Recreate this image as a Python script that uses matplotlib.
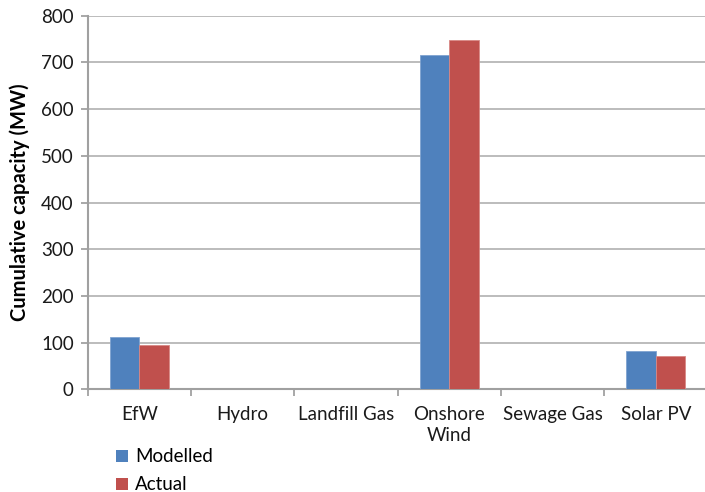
import matplotlib
matplotlib.use("Agg")
import matplotlib.pyplot as plt
import numpy as np
from matplotlib.patches import Patch

categories = ["EfW", "Hydro", "Landfill Gas", "Onshore\nWind", "Sewage Gas", "Solar PV"]
modelled = [111, 0, 0, 715, 0, 82]
actual = [95, 0, 0, 747, 0, 72]
series_names = ["Modelled", "Actual"]
yticks = [0, 100, 200, 300, 400, 500, 600, 700, 800]

plt.rcParams['font.family'] = ['Lato', 'DejaVu Sans']

fig = plt.figure(figsize=(7.05, 4.92), dpi=100)
ax = fig.add_axes([0.1244, 0.2087, 1.0035 - 0.1244, 0.968 - 0.2087])

blue = "#4F81BD"
red = "#C0504D"
x = np.arange(len(categories))
w = 1 / 3.5
ax.bar(x - w / 2, modelled, width=w, color=blue, edgecolor="#7fa3d0", linewidth=0.6, zorder=3)
ax.bar(x + w / 2, actual, width=w, color=red, edgecolor="#d88885", linewidth=0.6, zorder=3)

fs = 13.5
ax.set_xlim(-0.5, len(categories) - 0.5)
ax.set_ylim(0, 800)
ax.set_yticks(yticks)
ax.set_yticklabels([str(t) for t in yticks], fontsize=fs, color="#1a1a1a")
ax.yaxis.grid(True, color="#b0b0b0", linewidth=1.2, zorder=0)
ax.set_axisbelow(True)

ax.set_xticks(np.arange(len(categories) + 1) - 0.5)
ax.set_xticklabels([])
ax.set_xticks(x, minor=True)
ax.set_xticklabels(categories, minor=True, fontsize=fs, color="#1a1a1a", linespacing=1.3)
ax.tick_params(axis='x', which='minor', length=0, pad=12)
ax.tick_params(axis='x', which='major', length=5, color="#999999", width=1.2)
ax.tick_params(axis='y', length=5, color="#999999", width=1.2, pad=5)

for s in ["top", "right"]:
    ax.spines[s].set_visible(False)
for s in ["left", "bottom"]:
    ax.spines[s].set_color("#a0a0a0")
    ax.spines[s].set_linewidth(1.5)

ax.set_ylabel("Cumulative capacity (MW)", fontsize=14.5, fontweight="bold", labelpad=8)

handles = [Patch(facecolor=blue, edgecolor="none"), Patch(facecolor=red, edgecolor="none")]
fig.legend(handles, series_names, loc="upper left", bbox_to_anchor=(0.165, 0.089),
           frameon=False, fontsize=fs, handlelength=0.6, handleheight=0.6,
           handletextpad=0.4, labelspacing=0.6, borderaxespad=0, borderpad=0)

fig.savefig("out.png", dpi=100)
